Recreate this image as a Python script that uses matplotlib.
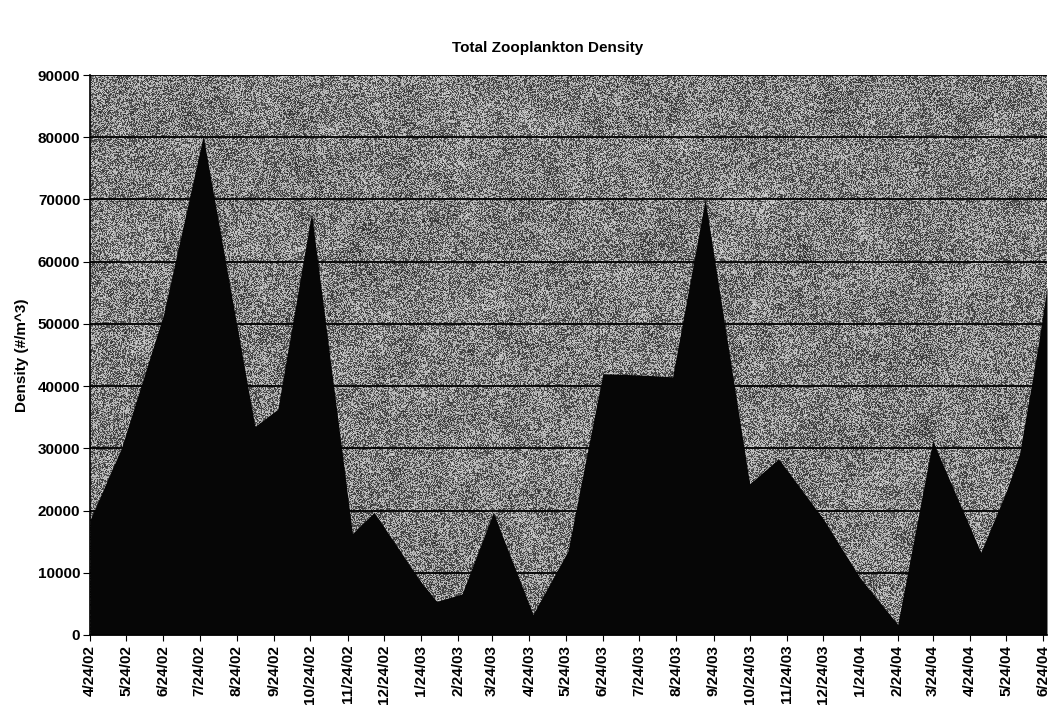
import numpy as np
import pandas as pd
import matplotlib
matplotlib.use("Agg")
import matplotlib.pyplot as plt
import matplotlib.dates as mdates

# sampling dates and total density (#/m^3)
sample_dates = ["4/24/02", "5/20/02", "6/24/02", "7/27/02", "9/08/02", "9/27/02",
                "10/25/02", "11/28/02", "12/16/02", "1/24/03", "2/06/03", "2/27/03",
                "3/25/03", "4/27/03", "5/26/03", "6/24/03", "7/24/03", "8/21/03",
                "9/17/03", "10/24/03", "11/17/03", "12/24/03", "1/24/04", "2/24/04",
                "3/24/04", "5/03/04", "5/24/04", "6/04/04", "6/13/04", "6/20/04",
                "6/27/04"]
density = [18500, 30000, 51500, 80200, 33500, 36300,
           67800, 16300, 19700, 8500, 5400, 6600,
           19700, 3300, 13500, 42000, 41800, 41500,
           70000, 24300, 28300, 18700, 9100, 1700,
           31200, 13300, 23000, 29000, 39000, 47000,
           56000]

tick_labels = ["4/24/02", "5/24/02", "6/24/02", "7/24/02", "8/24/02", "9/24/02",
               "10/24/02", "11/24/02", "12/24/02", "1/24/03", "2/24/03", "3/24/03",
               "4/24/03", "5/24/03", "6/24/03", "7/24/03", "8/24/03", "9/24/03",
               "10/24/03", "11/24/03", "12/24/03", "1/24/04", "2/24/04", "3/24/04",
               "4/24/04", "5/24/04", "6/24/04"]
y_ticks = [0, 10000, 20000, 30000, 40000, 50000, 60000, 70000, 80000, 90000]

plt.rcParams["font.family"] = ["Liberation Sans", "DejaVu Sans"]
plt.rcParams["font.weight"] = "bold"

x = mdates.date2num(pd.to_datetime(sample_dates, format="%m/%d/%y"))
xt = mdates.date2num(pd.to_datetime(tick_labels, format="%m/%d/%y"))

fig = plt.figure(figsize=(10.53, 7.09), dpi=100)
ax = fig.add_axes([0.0855, 0.1044, 0.9088, 0.7898])


def box_blur(a, k):
    ker = np.ones(k) / k
    a = np.apply_along_axis(lambda r: np.convolve(r, ker, mode="same"), 1, a)
    return np.apply_along_axis(lambda c: np.convolve(c, ker, mode="same"), 0, a)


# grainy grey backdrop, like the scanned plot area fill
rng = np.random.default_rng(7)
h, w = 560, 957
low = box_blur(rng.normal(0, 1, (h, w)), 25) * 25 / 2.5
tone = np.clip(0.50 + 0.06 * low, 0, 1)
dots = (rng.random((h, w)) < tone).astype(float)
tex = 0.4 * dots + 0.6 * np.clip(tone + rng.normal(0, 0.1, (h, w)), 0, 1)
ax.imshow(tex, cmap="gray", vmin=0, vmax=1, extent=(0, 1, 0, 1),
          transform=ax.transAxes, aspect="auto", interpolation="nearest", zorder=0)

ax.fill_between(x, density, 0, color="#060606", lw=0, zorder=2)

ax.set_xlim(x[0], x[-1])
ax.set_ylim(0, 90000)
ax.set_yticks(y_ticks)
ax.set_yticklabels([str(v) for v in y_ticks])
ax.set_xticks(xt)
ax.set_xticklabels(tick_labels, rotation=90)
ax.tick_params(axis="both", labelsize=11, direction="out", color="black")
ax.tick_params(axis="x", length=4, pad=3)
ax.tick_params(axis="y", length=5, pad=2)

ax.set_axisbelow(True)
ax.yaxis.grid(True, color="black", lw=1.3, zorder=1)
for s in ["top", "right"]:
    ax.spines[s].set_visible(False)
ax.spines["left"].set_linewidth(1.2)
ax.spines["bottom"].set_linewidth(1.2)

ax.set_ylabel("Density (#/m^3)", fontsize=11, fontweight="bold", labelpad=6)
fig.text(0.52, 0.933, "Total Zooplankton Density", ha="center", va="center",
         fontsize=11, fontweight="bold")

fig.savefig("out.png", dpi=100)
